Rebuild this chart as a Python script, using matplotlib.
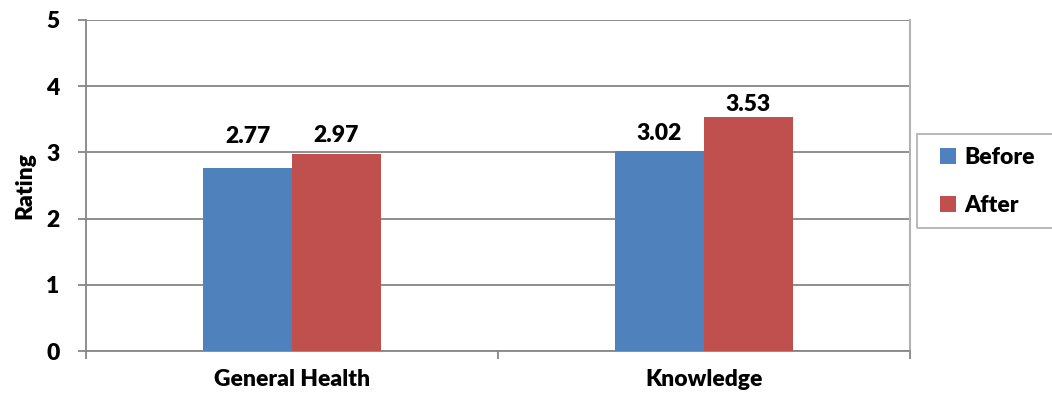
import matplotlib
matplotlib.use("Agg")
import matplotlib.pyplot as plt
from matplotlib.patches import Rectangle
import numpy as np

categories = ["General Health", "Knowledge"]
before = [2.77, 3.02]
after = [2.97, 3.53]
series_names = ["Before", "After"]
y_ticks = [0, 1, 2, 3, 4, 5]

FONT = ["Lato", "DejaVu Sans"]
plt.rcParams["font.family"] = FONT

BLUE = "#4F81BD"
RED = "#C0504D"
GRID = "#868686"
BORDER = "#B3B3B3"
FS = 16.5
WT = 800
W, H = 1052, 396

fig = plt.figure(figsize=(W / 100, H / 100), dpi=100)
ax = fig.add_axes([86 / W, 1 - 351 / H, (910 - 86) / W, (351 - 20) / H])

x = np.arange(len(categories))
w = 89 / 412
b1 = ax.bar(x - w / 2, before, width=w, color=BLUE, label=series_names[0], zorder=3)
b2 = ax.bar(x + w / 2, after, width=w, color=RED, label=series_names[1], zorder=3)

# value labels above each bar (vertical offsets in points)
label_lift = {(0, 0): 15, (0, 1): 6, (1, 0): 5, (1, 1): 1.5}
for s, (bars, vals) in enumerate(((b1, before), (b2, after))):
    for c, (rect, v) in enumerate(zip(bars, vals)):
        ax.annotate(f"{v:.2f}", (rect.get_x() + rect.get_width() / 2, v),
                    xytext=(0, label_lift[(c, s)]), textcoords="offset points",
                    ha="center", va="bottom", fontsize=FS, fontweight=WT,
                    family=FONT)

ax.set_xlim(-0.5, len(categories) - 0.5)
ax.set_ylim(0, 5)
ax.set_yticks(y_ticks)
ax.set_yticklabels([str(t) for t in y_ticks], fontsize=FS, fontweight=WT, family=FONT)
ax.yaxis.grid(True, color=GRID, linewidth=1.3, zorder=0)
ax.set_axisbelow(True)

# category labels centred, tick marks at category boundaries
ax.set_xticks(x)
ax.set_xticklabels(categories, fontsize=FS, fontweight=WT, family=FONT)
ax.tick_params(axis="x", which="major", length=0, pad=13)
ax.set_xticks(np.arange(len(categories) + 1) - 0.5, minor=True)
ax.tick_params(axis="x", which="minor", length=6, width=1.3, color=GRID, direction="out")
ax.tick_params(axis="y", length=6, width=1.3, color=GRID, direction="out", pad=13)

for side in ("left", "bottom"):
    ax.spines[side].set_color(GRID)
    ax.spines[side].set_linewidth(1.3)
ax.spines["top"].set_visible(False)
ax.spines["right"].set_color(BORDER)
ax.spines["right"].set_linewidth(1.5)

ax.set_ylabel("Rating", fontsize=FS, fontweight=WT, family=FONT, labelpad=8)

# legend box running off the right edge of the figure
fig.patches.append(Rectangle((917 / W, 1 - 228 / H), 150 / W, 94 / H,
                             transform=fig.transFigure, fill=False,
                             edgecolor=BORDER, linewidth=1.3))
leg = fig.legend(handles=[b1, b2], loc="upper left",
                 bbox_to_anchor=(940 / W, 1 - 147 / H),
                 frameon=False,
                 prop={"family": FONT, "weight": WT, "size": FS},
                 handlelength=0.7, handleheight=0.7, handletextpad=0.35,
                 labelspacing=1.18, borderpad=0, borderaxespad=0)

fig.savefig("out.png", dpi=100)
